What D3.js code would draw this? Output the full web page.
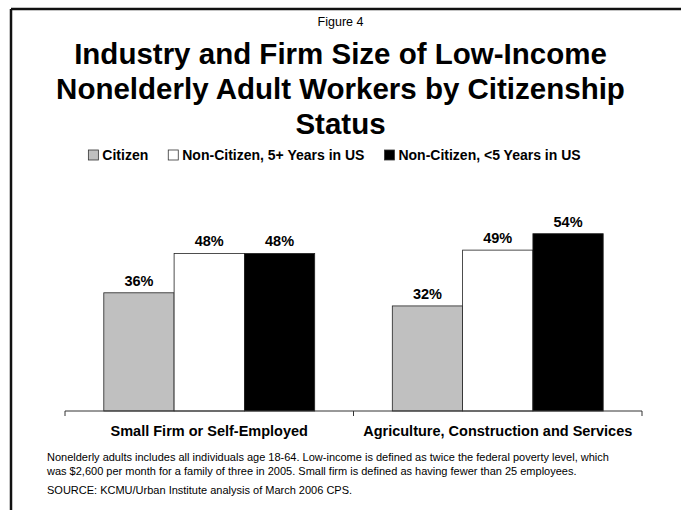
<!DOCTYPE html>
<html>
<head>
<meta charset="utf-8">
<script src="https://cdn.jsdelivr.net/npm/d3@7"></script>
<style>
  html, body { margin: 0; padding: 0; background: #fff; }
  svg { display: block; font-family: "Liberation Sans", Arial, sans-serif; }
</style>
</head>
<body>
<svg id="chart" width="681" height="510"></svg>
<script>
// Chart data
const categories = ["Small Firm or Self-Employed", "Agriculture, Construction and Services"];
const seriesNames = ["Citizen", "Non-Citizen, 5+ Years in US", "Non-Citizen, <5 Years in US"];
const citizen = [36, 32];
const nonCitizen5Plus = [48, 49];
const nonCitizenUnder5 = [48, 54];
const seriesValues = [citizen, nonCitizen5Plus, nonCitizenUnder5];
const seriesColors = ["#C0C0C0", "#FFFFFF", "#000000"];
const titleLines = ["Industry and Firm Size of Low-Income", "Nonelderly Adult Workers by Citizenship", "Status"];
const notes = [
  "Nonelderly adults includes all individuals age 18-64. Low-income is defined as twice the federal poverty level, which",
  "was $2,600 per month for a family of three in 2005. Small firm is defined as having fewer than 25 employees."
];
const source = "SOURCE: KCMU/Urban Institute analysis of March 2006 CPS.";

const svg = d3.select("#chart");
const W = 681;

// Frame: heavy rule along the top and left edges
svg.append("line").attr("x1", 11).attr("y1", 9).attr("x2", W).attr("y2", 9)
  .attr("stroke", "#111").attr("stroke-width", 2.5);
svg.append("line").attr("x1", 11).attr("y1", 9).attr("x2", 11).attr("y2", 510)
  .attr("stroke", "#111").attr("stroke-width", 2.5);

// Headings
svg.append("text").attr("x", W / 2).attr("y", 26).attr("text-anchor", "middle")
  .attr("font-size", 12.5).attr("fill", "#000").text("Figure 4");
svg.selectAll("text.title").data(titleLines).enter().append("text")
  .attr("class", "title")
  .attr("x", W / 2).attr("y", (d, i) => 64 + i * 35)
  .attr("text-anchor", "middle").attr("font-size", 29.5).attr("font-weight", "bold")
  .attr("fill", "#000").text(d => d);

// Scales
const x0 = d3.scaleBand().domain(categories).range([65, 642])
  .paddingInner(0.269).paddingOuter(0.1345);
const x1 = d3.scaleBand().domain(seriesNames).range([0, x0.bandwidth()]).padding(0);
const y = d3.scaleLinear().domain([0, 60]).range([411, 214]);
const color = d3.scaleOrdinal().domain(seriesNames).range(seriesColors);

// Legend
const legend = svg.append("g").attr("font-size", 14).attr("font-weight", "bold");
const items = legend.selectAll("g").data(seriesNames).enter().append("g");
items.append("rect").attr("width", 10).attr("height", 10).attr("y", -10)
  .attr("fill", d => color(d)).attr("stroke", "#333").attr("stroke-width", 0.8);
items.append("text").attr("x", 14).attr("y", 0).attr("fill", "#000").text(d => d);
let lx = 0;
const gap = 20;
items.each(function () {
  const g = d3.select(this);
  g.attr("transform", `translate(${lx},0)`);
  lx += 14 + g.select("text").node().getComputedTextLength() + gap;
});
lx -= gap;
legend.attr("transform", `translate(${(W - lx) / 2 - 6},160)`);

// Bars
const bars = [];
categories.forEach((c, ci) => {
  seriesNames.forEach((s, si) => bars.push({ cat: c, series: s, value: seriesValues[si][ci] }));
});
const plot = svg.append("g");
plot.selectAll("rect.bar").data(bars).enter().append("rect")
  .attr("class", "bar")
  .attr("x", d => x0(d.cat) + x1(d.series))
  .attr("y", d => y(d.value))
  .attr("width", x1.bandwidth())
  .attr("height", d => y(0) - y(d.value))
  .attr("fill", d => color(d.series))
  .attr("stroke", "#222").attr("stroke-width", 0.8);

// Value labels
plot.selectAll("text.val").data(bars).enter().append("text")
  .attr("class", "val")
  .attr("x", d => x0(d.cat) + x1(d.series) + x1.bandwidth() / 2)
  .attr("y", d => y(d.value) - 7)
  .attr("text-anchor", "middle").attr("font-size", 14.5).attr("font-weight", "bold")
  .attr("fill", "#000").text(d => d.value + "%");

// Category axis with ticks at the band edges
const axis = svg.append("g").attr("transform", `translate(0,${y(0)})`);
const [r0, r1] = x0.range();
axis.append("line").attr("x1", r0).attr("x2", r1).attr("y1", 0).attr("y2", 0)
  .attr("stroke", "#333").attr("stroke-width", 1);
const edges = d3.range(categories.length + 1).map(i => r0 + i * x0.step());
axis.selectAll("line.tick").data(edges).enter().append("line")
  .attr("class", "tick").attr("x1", d => d).attr("x2", d => d).attr("y1", 0).attr("y2", 5)
  .attr("stroke", "#333").attr("stroke-width", 1);
axis.selectAll("text.cat").data(categories).enter().append("text")
  .attr("class", "cat")
  .attr("x", d => x0(d) + x0.bandwidth() / 2).attr("y", 25)
  .attr("text-anchor", "middle").attr("font-size", 14.5).attr("font-weight", "bold")
  .attr("fill", "#000").text(d => d);

// Notes and source
svg.selectAll("text.note").data(notes).enter().append("text")
  .attr("class", "note").attr("x", 47).attr("y", (d, i) => 461 + i * 14)
  .attr("font-size", 11).attr("fill", "#000").text(d => d);
svg.append("text").attr("x", 47).attr("y", 494).attr("font-size", 11)
  .attr("fill", "#000").text(source);
</script>
</body>
</html>
